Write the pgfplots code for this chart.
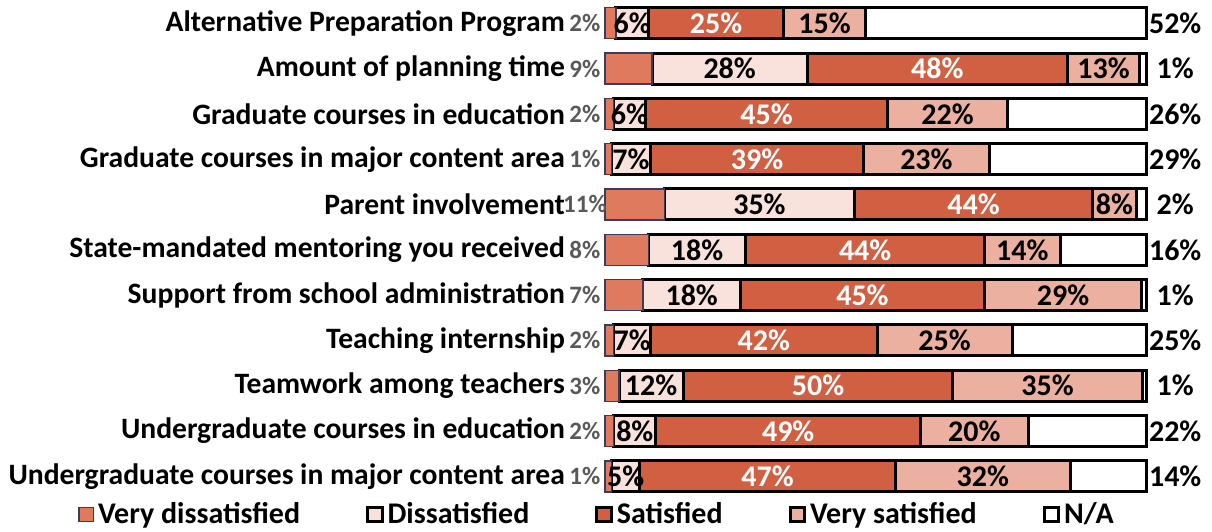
\documentclass[border=0pt]{standalone}
\usepackage{pgfplots}
\pgfplotsset{compat=1.18}
\usepackage{pgfplotstable}
\usepackage{fontspec}
\setmainfont{Carlito}

\definecolor{cvd}{RGB}{224,122,95}
\definecolor{cd}{RGB}{249,226,219}
\definecolor{cs}{RGB}{209,96,67}
\definecolor{cvs}{RGB}{235,176,160}
\definecolor{cnavy}{RGB}{58,61,85}
\definecolor{cgray}{RGB}{89,89,89}

\pgfplotstableread{
y vd d s vs na lvd ld ls lvs lna
0 2 6 25 15 52 2 6 25 15 52
1 8.7 28.6 48 13.4 1.3 9 28 48 13 1
2 1.6 5.8 44.8 22 25.8 2 6 45 22 26
3 1.2 7.2 39.3 23.2 29.1 1 7 39 23 29
4 11 35 44 8 2 11 35 44 8 2
5 8 18 44 14 16 8 18 44 14 16
6 7 18 45 29 1 7 18 45 29 1
7 1.6 6.8 41.8 24.9 24.9 2 7 42 25 25
8 2.6 11.8 49.8 34.9 0.9 3 12 50 35 1
9 1.6 7.8 48.8 19.9 21.9 2 8 49 20 22
10 1.2 5.2 47.2 32.2 14.2 1 5 47 32 14
}\data

\pgfplotsset{/pgf/number format/assume math mode=true}
\newcommand{\bigf}{\fontsize{15}{17}\selectfont\bfseries}
\newcommand{\tickf}{\fontsize{14.8}{17}\selectfont\bfseries}
\newcommand{\smallf}{\fontsize{12.5}{14}\selectfont\bfseries}

\begin{document}
\begin{tikzpicture}[font=\bigf]
\begin{axis}[name=main,
  xbar stacked,
  scale only axis, width=271pt, height=249.2pt,
  xmin=0, xmax=100, ymin=-0.5, ymax=10.5, y dir=reverse,
  bar width=15.5pt,
  xtick=\empty, ytick={0,...,10},
  yticklabels={Alternative Preparation Program, Amount of planning time, Graduate courses in education, Graduate courses in major content area, Parent involvement, State-mandated mentoring you received, Support from school administration, Teaching internship, Teamwork among teachers, Undergraduate courses in education, Undergraduate courses in major content area},
  yticklabel style={font=\tickf, xshift=-16.5pt},
  axis line style={draw=none}, major tick length=0pt,
  legend columns=5,
  legend image code/.code={\draw[#1] (0pt,-3.6pt) rectangle (7.2pt,3.6pt);},
  legend style={at={(-0.013,-0.031)}, anchor=center, draw=none, fill=none,
    inner sep=0pt, font=\bigf,
    nodes={inner sep=2pt},
    /tikz/every even column/.append style={column sep=31pt}},
  clip=false,
]
\addplot[fill=cvd, draw=cnavy, line width=0.7pt] table[x=vd,y=y]{\data};
\addplot[fill=cd, draw=black, line width=1.5pt, point meta=explicit,
  nodes near coords={\pgfmathprintnumber{\pgfplotspointmeta}\%},
  every node near coord/.append style={text=black, font=\bigf}]
  table[x=d,y=y,meta=ld]{\data};
\addplot[fill=cs, draw=black, line width=1.5pt, point meta=explicit,
  nodes near coords={\pgfmathprintnumber{\pgfplotspointmeta}\%},
  every node near coord/.append style={text=white, font=\bigf}]
  table[x=s,y=y,meta=ls]{\data};
\addplot[fill=cvs, draw=black, line width=1.5pt, point meta=explicit,
  nodes near coords={\pgfmathprintnumber{\pgfplotspointmeta}\%},
  every node near coord/.append style={text=black, font=\bigf}]
  table[x=vs,y=y,meta=lvs]{\data};
\addplot[fill=white, draw=black, line width=1.5pt] table[x=na,y=y]{\data};
\legend{Very dissatisfied, Dissatisfied, Satisfied, Very satisfied, N/A}
\end{axis}
\begin{axis}[
  scale only axis, width=271pt, height=249.2pt,
  xmin=0, xmax=100, ymin=-0.5, ymax=10.5, y dir=reverse,
  hide axis, clip=false,
]
\addplot[draw=none, mark=none, point meta=explicit,
  nodes near coords={\pgfmathprintnumber{\pgfplotspointmeta}\%},
  every node near coord/.append style={anchor=center, text=cgray, font=\smallf}]
  table[x expr=-3.7, y=y, meta=lvd]{\data};
\addplot[draw=none, mark=none, point meta=explicit,
  nodes near coords={\pgfmathprintnumber{\pgfplotspointmeta}\%},
  every node near coord/.append style={anchor=center, text=black, font=\bigf}]
  table[x expr=105.2, y=y, meta=lna]{\data};
\end{axis}
\pgfresetboundingbox
\path[use as bounding box] ([shift={(-302.5pt,-16.5pt)}]main.south west) rectangle ([shift={(32.5pt,0.3pt)}]main.north east);
\end{tikzpicture}
\end{document}
